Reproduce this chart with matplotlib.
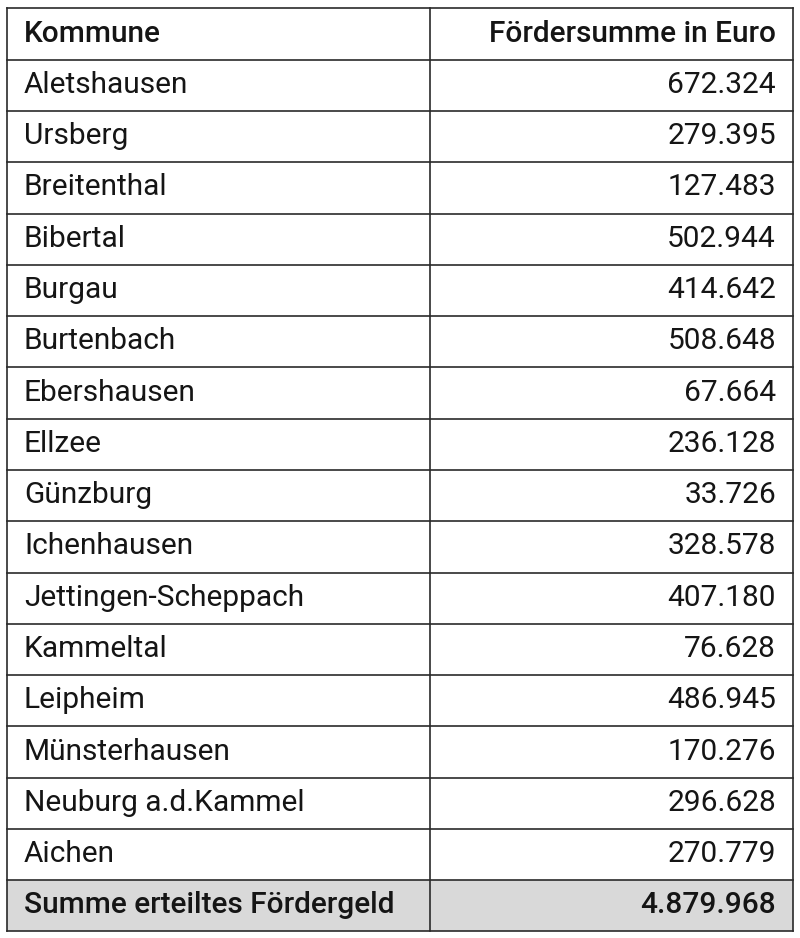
import matplotlib.pyplot as plt

kommunen = ['Aletshausen', 'Ursberg', 'Breitenthal', 'Bibertal', 'Burgau',
            'Burtenbach', 'Ebershausen', 'Ellzee', 'Günzburg', 'Ichenhausen',
            'Jettingen-Scheppach', 'Kammeltal', 'Leipheim', 'Münsterhausen',
            'Neuburg a.d.Kammel', 'Aichen']
foerdersumme = ['672.324', '279.395', '127.483', '502.944', '414.642',
                '508.648', '67.664', '236.128', '33.726', '328.578',
                '407.180', '76.628', '486.945', '170.276', '296.628',
                '270.779']
kopf = ['Kommune', 'Fördersumme in Euro']
summe = ['Summe erteiltes Fördergeld', '4.879.968']

W, H = 800, 938
x_left, x_mid, x_right = 6.5, 429.5, 792.5
y_top, y_bot = 8.5, 931.5
n_rows = len(kommunen) + 2
row_h = (y_bot - y_top) / n_rows
fs = 21.5
font = 'Roboto'

fig = plt.figure(figsize=(W / 100, H / 100), dpi=100)
ax = fig.add_axes([0, 0, 1, 1])
ax.set_xlim(0, W)
ax.set_ylim(H, 0)
ax.axis('off')

# grey sum row
ax.fill_between([x_left, x_right], y_bot - row_h, y_bot, color='#d9d9d9', lw=0)

rows = [kopf] + [[k, v] for k, v in zip(kommunen, foerdersumme)] + [summe]
for i, (name, val) in enumerate(rows):
    yb = y_top + (i + 0.5) * row_h + 7.5
    bold = i == 0 or i == n_rows - 1
    w = 'medium' if bold else 'normal'
    ax.text(24, yb, name, ha='left', va='baseline', fontsize=fs,
            fontfamily=font, fontweight=w, color='#151515')
    ax.text(776, yb, val, ha='right', va='baseline', fontsize=fs,
            fontfamily=font, fontweight=w, color='#151515')

for i in range(n_rows + 1):
    y = y_top + i * row_h
    ax.plot([x_left, x_right], [y, y], color='#2a2a2a', lw=1.2)
for x in (x_left, x_mid, x_right):
    ax.plot([x, x], [y_top, y_bot], color='#2a2a2a', lw=1.2)

fig.savefig('out.png', dpi=100, facecolor='white')
